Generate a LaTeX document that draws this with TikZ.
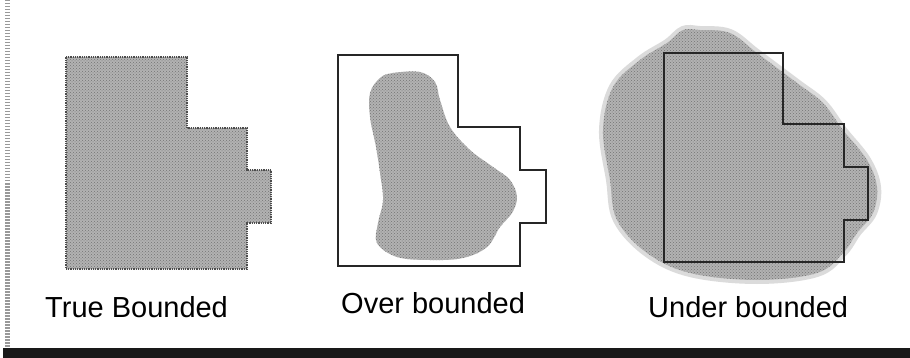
\documentclass[tikz,border=0pt]{standalone}
\usepackage{fontspec}
\setmainfont{Liberation Sans}
\usetikzlibrary{patterns}
\begin{document}
\begin{tikzpicture}[x=1pt,y=-1pt,
  stipple/.style={fill=black!30, postaction={pattern=crosshatch dots, pattern color=black!55}},
  outline/.style={draw=black!85, line width=1.4pt, line join=miter},
  label/.style={anchor=base west, inner sep=0pt, font=\fontsize{29}{34}\selectfont}]
\useasboundingbox (0,0) rectangle (910,358);
\fill[white] (0,0) rectangle (910,358);
% left dotted border and bottom bar
\draw[black!40, line width=5pt, dash pattern=on 1.5pt off 1.5pt] (7,0) -- (7,348);
\fill[black!90] (3,348) rectangle (910,358);

% True bounded
\path[stipple] (66,57) -- (187,57) -- (187,128) -- (247,128) -- (247,170) -- (271,170) -- (271,223) -- (247,223) -- (247,269) -- (66,269) -- cycle;
\draw[black!70, line width=1.2pt, dash pattern=on 1pt off 0.8pt] (66,57) -- (187,57) -- (187,128) -- (247,128) -- (247,170) -- (271,170) -- (271,223) -- (247,223) -- (247,269) -- (66,269) -- cycle;

% Over bounded
\path[stipple] plot[smooth cycle, tension=0.6] coordinates {(393,73) (420,72) (435,82) (440,100) (450,127) (470,150) (493,167) (510,180) (517,197) (512,213) (500,227) (487,247) (463,258) (430,260) (397,257) (377,243) (378,223) (383,200) (380,173) (376,147) (370,117) (370,93) (380,78)};
\draw[outline] (338,55) -- (458,55) -- (458,127) -- (520,127) -- (520,170) -- (546,170) -- (546,223) -- (520,223) -- (520,266) -- (338,266) -- cycle;

% Under bounded
\draw[black!14, line width=8pt, fill=black!14] plot[smooth cycle, tension=0.6] coordinates {(700,30) (730,33) (757,53) (797,83) (823,103) (843,130) (867,160) (877,187) (873,213) (857,233) (843,253) (817,273) (757,280) (690,273) (647,253) (617,220) (610,180) (603,130) (613,87) (640,60) (667,43) (683,30)};
\path[stipple] plot[smooth cycle, tension=0.6] coordinates {(700,30) (730,33) (757,53) (797,83) (823,103) (843,130) (867,160) (877,187) (873,213) (857,233) (843,253) (817,273) (757,280) (690,273) (647,253) (617,220) (610,180) (603,130) (613,87) (640,60) (667,43) (683,30)};
\draw[outline, line width=1.8pt] (664,53) -- (783,53) -- (783,124) -- (844,124) -- (844,167) -- (868,167) -- (868,220) -- (844,220) -- (844,262) -- (664,262) -- cycle;

% labels
\node[label] (ltrue) at (45,317) {True Bounded};
\node[label] (lover) at (341,313) {Over bounded};
\node[label] (lunder) at (648,317) {Under bounded};
\end{tikzpicture}
\end{document}
